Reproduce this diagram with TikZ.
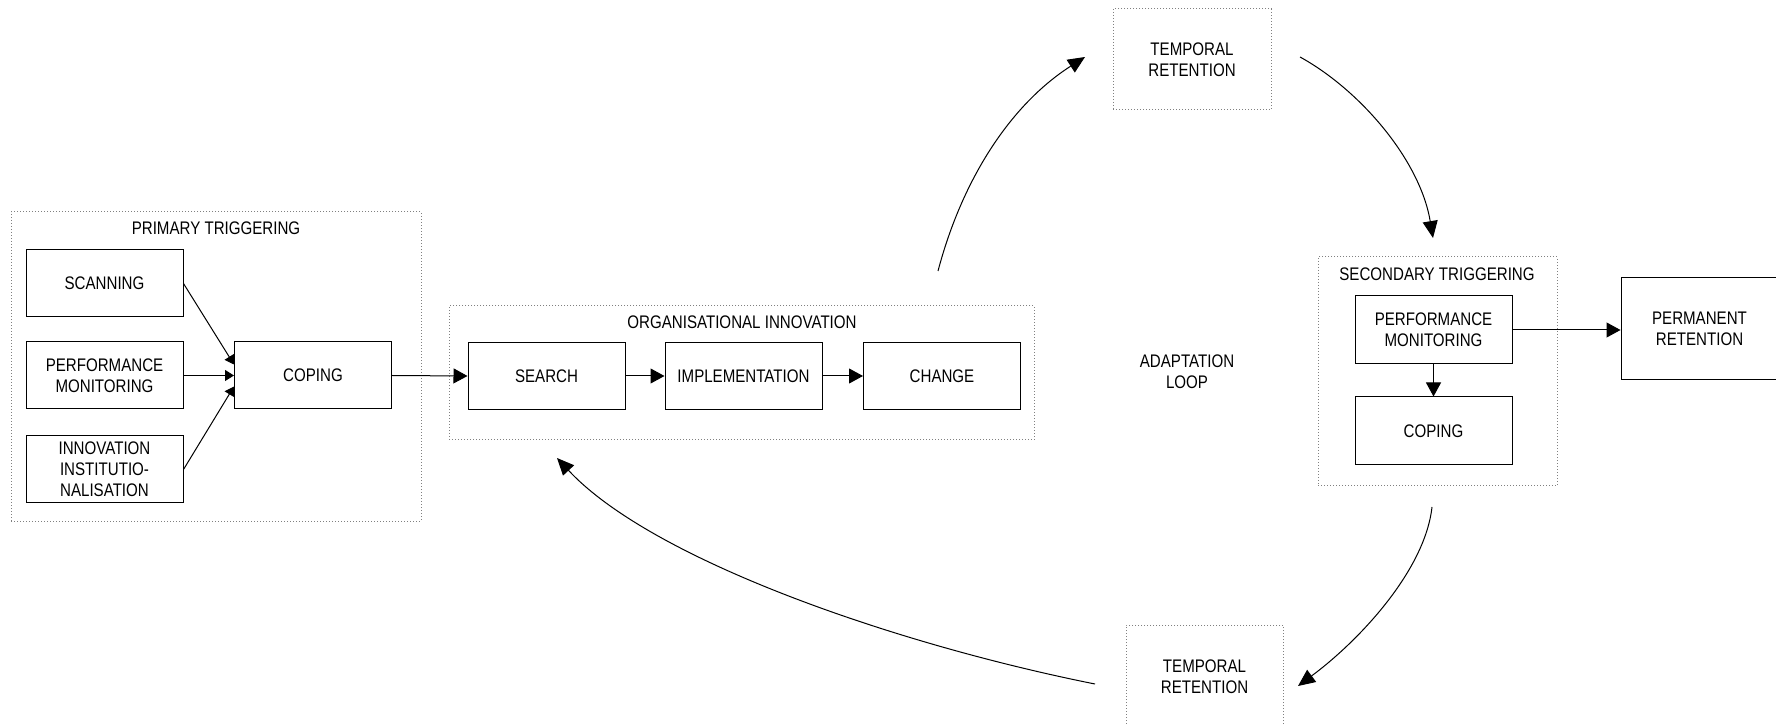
\documentclass[tikz,border=0pt]{standalone}
\usepackage{fontspec}
\setmainfont{Liberation Sans}[FakeStretch=0.83]
\usetikzlibrary{arrows.meta,calc}
\newcommand\lab{\fontsize{9.1}{10.5}\selectfont}
\begin{document}
\begin{tikzpicture}[x=0.5pt,y=-0.5pt,
  box/.style={draw=black, line width=0.5pt, minimum width=78.5pt, minimum height=33.5pt,
              inner sep=0pt, align=center, font=\lab},
  group/.style={draw=gray, line width=0.5pt, dash pattern=on 0.5pt off 1pt, inner sep=0pt},
  title/.style={inner sep=0pt, align=center, font=\lab},
  link/.style={line width=0.5pt, -{Triangle[length=7pt,width=7.5pt]}},
  smalllink/.style={line width=0.5pt, -{Triangle[length=4.5pt,width=5.5pt]}},
  loop/.style={line width=0.5pt, -{Triangle[length=8.5pt,width=7.5pt]}}]
\useasboundingbox (0,0) rectangle (1776,726);

% group frames
\node[group, minimum width=205pt, minimum height=154.5pt] (primary) at (216,366.5) {};
\node[group, minimum width=292.5pt, minimum height=67pt] (orginno) at (741.5,373) {};
\node[group, minimum width=119.5pt, minimum height=114.5pt] (secondary) at (1437.5,371.5) {};
\node[group, align=center, font=\lab, minimum width=79pt, minimum height=50.5pt] (tempA) at (1192,59.5) {TEMPORAL\\RETENTION};
\node[group, align=center, font=\lab, minimum width=78.5pt, minimum height=52pt] (tempB) at (1204.5,677) {TEMPORAL\\RETENTION};

% group titles
\node[title] (primtitle) at (216,228) {PRIMARY TRIGGERING};
\node[title] (orgtitle) at (742,322) {ORGANISATIONAL INNOVATION};
\node[title] (sectitle) at (1437,274) {SECONDARY TRIGGERING};
\node[title] (adapt) at (1187,372) {ADAPTATION\\LOOP};

% primary triggering
\node[box] (scan) at (104.5,283.5) {SCANNING};
\node[box] (perf) at (104.5,375.5) {PERFORMANCE\\MONITORING};
\node[box] (innov) at (104.5,469.5) {INNOVATION\\INSTITUTIO-\\NALISATION};
\node[box] (cope) at (313,375.5) {COPING};

% organisational innovation
\node[box] (search) at (546.5,376) {SEARCH};
\node[box] (impl) at (743.5,376) {IMPLEMENTATION};
\node[box] (change) at (942,376) {CHANGE};

% secondary triggering
\node[box, minimum height=34pt] (perf2) at (1433.5,330) {PERFORMANCE\\MONITORING};
\node[box, minimum height=34pt] (cope2) at (1433.5,431) {COPING};
\node[box, minimum height=51pt] (perm) at (1699.5,329) {PERMANENT\\RETENTION};

% straight connectors
\draw[smalllink] (scan.east) -- ($(cope.west)+(0,-11)$);
\draw[smalllink] (perf.east) -- (cope.west);
\draw[smalllink] (innov.east) -- ($(cope.west)+(0,11)$);
\draw[link] (cope.east) -- (search.west);
\draw[link] (search.east) -- (impl.west);
\draw[link] (impl.east) -- (change.west);
\draw[link] (perf2.east) -- (perm.west |- perf2.east);
\draw[link] (perf2.south) -- (cope2.north);

% adaptation loop
\coordinate (l1s) at (938,271);
\coordinate (l1e) at (1085,57);
\coordinate (l2s) at (1300,57);
\coordinate (l2e) at (1433,238);
\coordinate (l3s) at (1432,507);
\coordinate (l3e) at (1298,686);
\coordinate (l4s) at (1095,684);
\coordinate (l4e) at (557,458);
\draw[loop] (l1s) .. controls (962,180) and (1010,105) .. (l1e);
\draw[loop] (l2s) .. controls (1360,90) and (1420,160) .. (l2e);
\draw[loop] (l3s) .. controls (1425,570) and (1360,640) .. (l3e);
\draw[loop] (l4s) .. controls (895,644) and (652,560) .. (l4e);
\end{tikzpicture}
\end{document}
